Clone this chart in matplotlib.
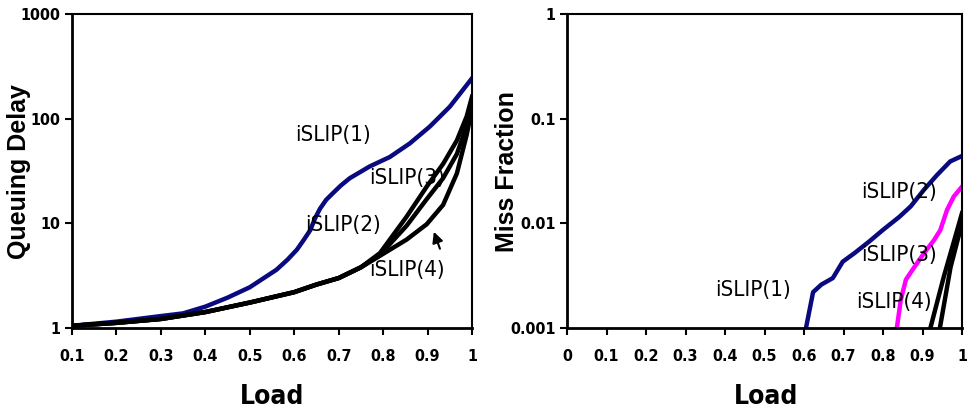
import matplotlib
matplotlib.use("Agg")
import matplotlib.pyplot as plt
from matplotlib import font_manager as fm


def pick(patterns, fallback_family, weight):
    for pat in patterns:
        for f in fm.fontManager.ttflist:
            base = f.fname.replace("\\", "/").split("/")[-1].lower()
            if base.startswith(pat.lower()):
                return fm.FontProperties(fname=f.fname)
    return fm.FontProperties(family=fallback_family, weight=weight)


NARROW_BOLD = pick(["LiberationSansNarrow-Bold.", "DejaVuSansCondensed-Bold.", "RobotoCondensed-Bold.",
                    "OpenSans_Condensed-Bold", "OpenSansCondensed-Bold"], "Liberation Sans", "bold")
NARROW_REG = pick(["LiberationSansNarrow-Regular.", "DejaVuSansCondensed.", "RobotoCondensed-Regular.",
                   "OpenSans_Condensed-Regular", "OpenSansCondensed-Regular"], "Liberation Sans", "normal")
WIDE = "Liberation Sans"

# ---------------- data: Queuing Delay (left) ----------------
load_q1 = [0.1, 0.2, 0.3, 0.35, 0.4, 0.45, 0.5, 0.56, 0.585, 0.606, 0.622, 0.636, 0.647, 0.658, 0.672,
           0.688, 0.705, 0.725, 0.77, 0.815, 0.86, 0.905, 0.95, 1.0]
delay_islip1 = [1.05, 1.15, 1.3, 1.38, 1.6, 1.95, 2.45, 3.6, 4.5, 5.6, 7.0, 8.6, 11.2, 13.8, 16.8,
                19.6, 23, 27, 35, 43, 58, 84, 130, 243]

load_qb = [0.1, 0.2, 0.3, 0.4, 0.5, 0.6, 0.65, 0.7, 0.75, 0.793, 0.853, 0.898, 0.935, 0.966, 0.988, 1.0]
delay_islip2 = [1.05, 1.12, 1.22, 1.42, 1.75, 2.2, 2.6, 3.0, 3.8, 5.2, 11.6, 22.4, 37, 62, 105, 162]
delay_islip3 = [1.05, 1.12, 1.22, 1.42, 1.75, 2.2, 2.6, 3.0, 3.8, 5.0, 9.5, 17, 27, 46, 85, 145]
delay_islip4 = [1.05, 1.12, 1.22, 1.42, 1.75, 2.2, 2.6, 3.0, 3.8, 4.9, 7.0, 9.8, 15, 30, 70, 125]

# ---------------- data: Miss Fraction (right) ----------------
load_m1 = [0.605, 0.623, 0.644, 0.673, 0.698, 0.728, 0.765, 0.799, 0.841, 0.87, 0.904, 0.937, 0.97, 1.0]
miss_islip1 = [0.001, 0.0022, 0.0026, 0.003, 0.0043, 0.0052, 0.0067, 0.0086, 0.0115, 0.0145, 0.021, 0.029, 0.039, 0.044]

load_m2 = [0.835, 0.845, 0.858, 0.879, 0.904, 0.929, 0.945, 0.962, 0.979, 1.0]
miss_islip2 = [0.001, 0.00185, 0.0029, 0.0038, 0.0052, 0.0069, 0.0086, 0.0134, 0.018, 0.0224]

load_m3 = [0.92, 0.954, 0.98, 1.0]
miss_islip3 = [0.001, 0.0031, 0.0068, 0.0125]

load_m4 = [0.944, 0.971, 0.987, 1.0]
miss_islip4 = [0.001, 0.0038, 0.0065, 0.0100]

x_ticks_left = [0.1, 0.2, 0.3, 0.4, 0.5, 0.6, 0.7, 0.8, 0.9, 1.0]
x_labels_left = ["0.1", "0.2", "0.3", "0.4", "0.5", "0.6", "0.7", "0.8", "0.9", "1"]
y_ticks_left = [1, 10, 100, 1000]
y_labels_left = ["1", "10", "100", "1000"]
x_ticks_right = [0, 0.1, 0.2, 0.3, 0.4, 0.5, 0.6, 0.7, 0.8, 0.9, 1.0]
x_labels_right = ["0", "0.1", "0.2", "0.3", "0.4", "0.5", "0.6", "0.7", "0.8", "0.9", "1"]
y_ticks_right = [0.001, 0.01, 0.1, 1]
y_labels_right = ["0.001", "0.01", "0.1", "1"]

NAVY = "#0a0a80"
MAGENTA = "#ff00ff"

fig = plt.figure(figsize=(9.67, 4.16), dpi=100)
axL = fig.add_axes([72 / 967, 88 / 416, 400 / 967, 314 / 416])
axR = fig.add_axes([567 / 967, 88 / 416, 395 / 967, 314 / 416])


def style(ax, xt, xl, yt, yl):
    ax.set_yscale("log")
    ax.set_xticks(xt)
    ax.set_xticklabels(xl)
    ax.set_yticks(yt)
    ax.set_yticklabels(yl)
    ax.minorticks_off()
    ax.tick_params(direction="out", length=5, width=1.5)
    ax.tick_params(axis="x", pad=10)
    ax.tick_params(axis="y", pad=3)
    for lab in ax.get_xticklabels() + ax.get_yticklabels():
        lab.set_fontproperties(NARROW_BOLD)
        lab.set_fontsize(11.5)
    for s in ["left", "bottom"]:
        ax.spines[s].set_linewidth(2)
    for s in ["top", "right"]:
        ax.spines[s].set_linewidth(1.5)


lw = 3.2
axL.plot(load_q1, delay_islip1, color=NAVY, lw=lw)
axL.plot(load_qb, delay_islip2, color="black", lw=lw)
axL.plot(load_qb, delay_islip3, color="black", lw=lw)
axL.plot(load_qb, delay_islip4, color="black", lw=lw)
axL.set_xlim(0.1, 1.0)
axL.set_ylim(1, 1000)
style(axL, x_ticks_left, x_labels_left, y_ticks_left, y_labels_left)


def curve_label(ax, x, y, s):
    t = ax.text(x, y, s, ha="center", va="center")
    t.set_fontproperties(NARROW_REG)
    t.set_fontsize(16)


curve_label(axL, 0.687, 70, "iSLIP(1)")
curve_label(axL, 0.854, 27, "iSLIP(3)")
curve_label(axL, 0.71, 9.6, "iSLIP(2)")
curve_label(axL, 0.854, 3.6, "iSLIP(4)")
axL.annotate("", xy=(0.912, 8.8), xytext=(0.93, 5.4),
             arrowprops=dict(arrowstyle="-|>", color="black", lw=1.5, mutation_scale=16))

axR.plot(load_m1, miss_islip1, color=NAVY, lw=lw)
axR.plot(load_m2, miss_islip2, color=MAGENTA, lw=lw)
axR.plot(load_m3, miss_islip3, color="black", lw=lw)
axR.plot(load_m4, miss_islip4, color="black", lw=lw)
axR.set_xlim(0, 1.0)
axR.set_ylim(0.001, 1)
style(axR, x_ticks_right, x_labels_right, y_ticks_right, y_labels_right)

curve_label(axR, 0.472, 0.0023, "iSLIP(1)")
curve_label(axR, 0.841, 0.02, "iSLIP(2)")
curve_label(axR, 0.841, 0.005, "iSLIP(3)")
curve_label(axR, 0.827, 0.00178, "iSLIP(4)")

fig.text(19 / 967, 1 - 172 / 416, "Queuing Delay", rotation=90, ha="center", va="center",
         fontfamily=WIDE, fontweight="bold", fontsize=18)
fig.text(507 / 967, 1 - 172 / 416, "Miss Fraction", rotation=90, ha="center", va="center",
         fontfamily=WIDE, fontweight="bold", fontsize=18)
for xc in (272, 766):
    t = fig.text(xc / 967, 1 - 397 / 416, "Load", ha="center", va="center")
    t.set_fontproperties(NARROW_BOLD)
    t.set_fontsize(19)

fig.savefig("out.png", dpi=100)
